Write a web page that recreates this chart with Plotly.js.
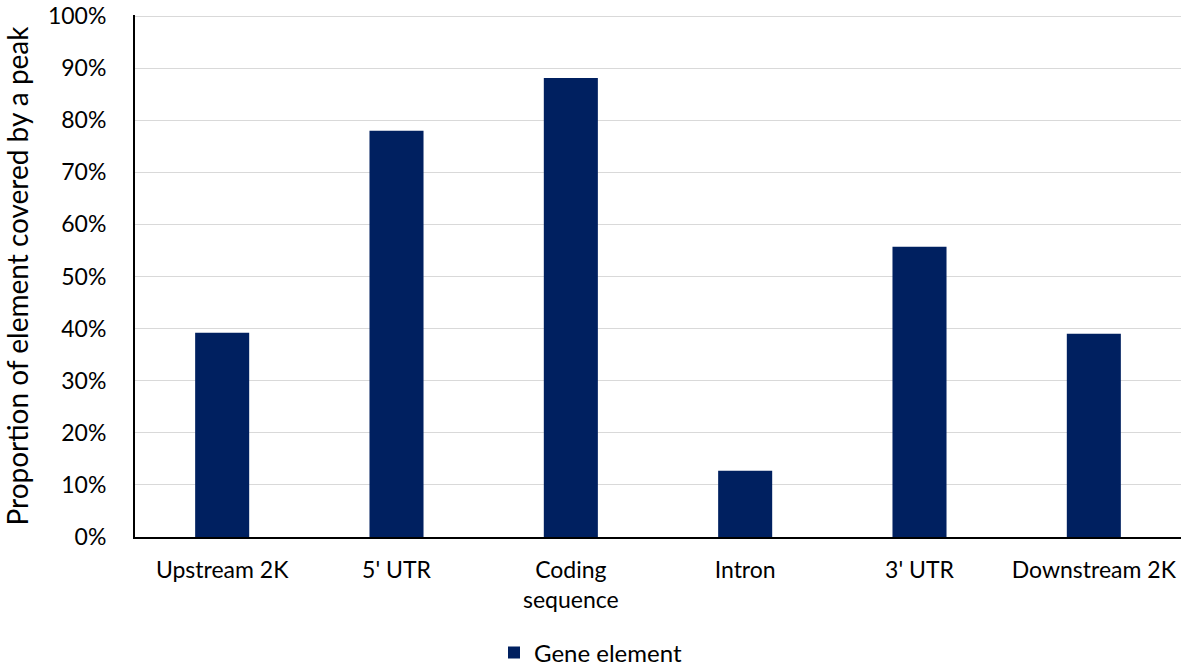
<!DOCTYPE html>
<html>
<head>
<meta charset="utf-8">
<script src="https://cdn.plot.ly/plotly-3.0.1.min.js"></script>
<style>html,body{margin:0;padding:0;background:#fff;}#chart{width:1181px;height:667px;}</style>
</head>
<body>
<div id="chart"></div>
<script>
const categories = ["Upstream 2K", "5' UTR", "Coding<br>sequence", "Intron", "3' UTR", "Downstream 2K"];
const values = [0.392, 0.780, 0.881, 0.127, 0.557, 0.390];
const seriesName = "Gene element";
const yTickVals = [0, 0.1, 0.2, 0.3, 0.4, 0.5, 0.6, 0.7, 0.8, 0.9, 1.0];
const yTickText = ["0%", "10%", "20%", "30%", "40%", "50%", "60%", "70%", "80%", "90%", "100%"];

const font = "Lato, 'Open Sans', sans-serif";
const trace = {
  type: "bar",
  x: categories,
  y: values,
  name: seriesName,
  marker: {color: "#002060"},
  showlegend: true,
  hoverinfo: "x+y"
};
const layout = {
  width: 1181, height: 667,
  margin: {l: 135, r: 0, t: 15, b: 130},
  paper_bgcolor: "#ffffff",
  plot_bgcolor: "#ffffff",
  font: {family: font, size: 22, color: "#000"},
  bargap: 0.69,
  showlegend: true,
  legend: {orientation: "h", x: 0.5, xref: "container", xanchor: "center",
           y: 0.021, yref: "container", yanchor: "middle",
           font: {size: 24, color: "#000"}, itemwidth: 30, tracegroupgap: 0},
  xaxis: {
    type: "category", automargin: false,
    showline: true, linecolor: "#000", linewidth: 2,
    ticks: "outside", tickcolor: "rgba(0,0,0,0)", ticklen: 11,
    tickfont: {size: 23, color: "#000"},
    showgrid: false, zeroline: false, fixedrange: true
  },
  yaxis: {
    range: [0, 1.002], automargin: false,
    tickvals: yTickVals, ticktext: yTickText,
    ticklabeloverflow: "allow",
    showline: true, linecolor: "#000", linewidth: 2,
    ticks: "outside", tickcolor: "rgba(0,0,0,0)", ticklen: 22,
    tickfont: {size: 23, color: "#000"},
    showgrid: true, gridcolor: "#d9d9d9", gridwidth: 1,
    zeroline: false, fixedrange: true,
    title: {text: "Proportion of element covered by a peak", font: {size: 28, color: "#000"}, standoff: 30}
  }
};
Plotly.newPlot("chart", [trace], layout, {displayModeBar: false, staticPlot: true});
</script>
</body>
</html>
